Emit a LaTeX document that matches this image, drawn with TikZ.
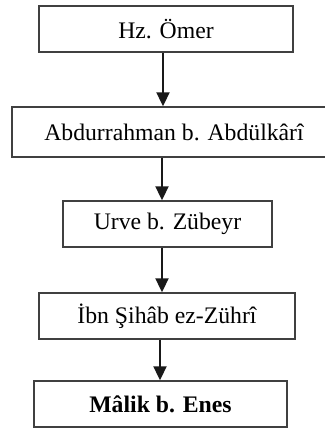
\documentclass[tikz,border=0pt]{standalone}
\usepackage{fontspec}
\setmainfont{Liberation Serif}
\usetikzlibrary{arrows.meta}
\begin{document}
\begin{tikzpicture}[x=1bp,y=-1bp,
  box/.style={draw=black!75,line width=1.4bp,inner sep=0pt,text=black,
    font=\fontsize{23.8}{28}\selectfont},
  conn/.style={draw=black!90,line width=2bp,-{Triangle[length=14bp,width=13bp]}}]
\useasboundingbox (0,0) rectangle (325,430);
\node[box,minimum width=254bp,minimum height=46bp] (a) at (166,29) {Hz. Ömer};
\node[box,minimum width=324bp,minimum height=50bp] (b) at (174,132) {Abdurrahman b. Abdülkârî};
\node[box,minimum width=209bp,minimum height=46bp] (c) at (167.5,224) {Urve b. Zübeyr};
\node[box,minimum width=256bp,minimum height=46bp] (d) at (167,316) {İbn Şihâb ez-Zührî};
\node[box,minimum width=253bp,minimum height=46bp] (e) at (160.5,404) {\textbf{Mâlik b. Enes}};
\draw[conn] ([xshift=-3bp]a.south) -- ([xshift=-3bp]a.south |- b.north);
\draw[conn] ([xshift=-12bp]b.south) -- ([xshift=-12bp]b.south |- c.north);
\draw[conn] ([xshift=-5.5bp]c.south) -- ([xshift=-5.5bp]c.south |- d.north);
\draw[conn] ([xshift=-7bp]d.south) -- ([xshift=-7bp]d.south |- e.north);
\end{tikzpicture}
\end{document}
